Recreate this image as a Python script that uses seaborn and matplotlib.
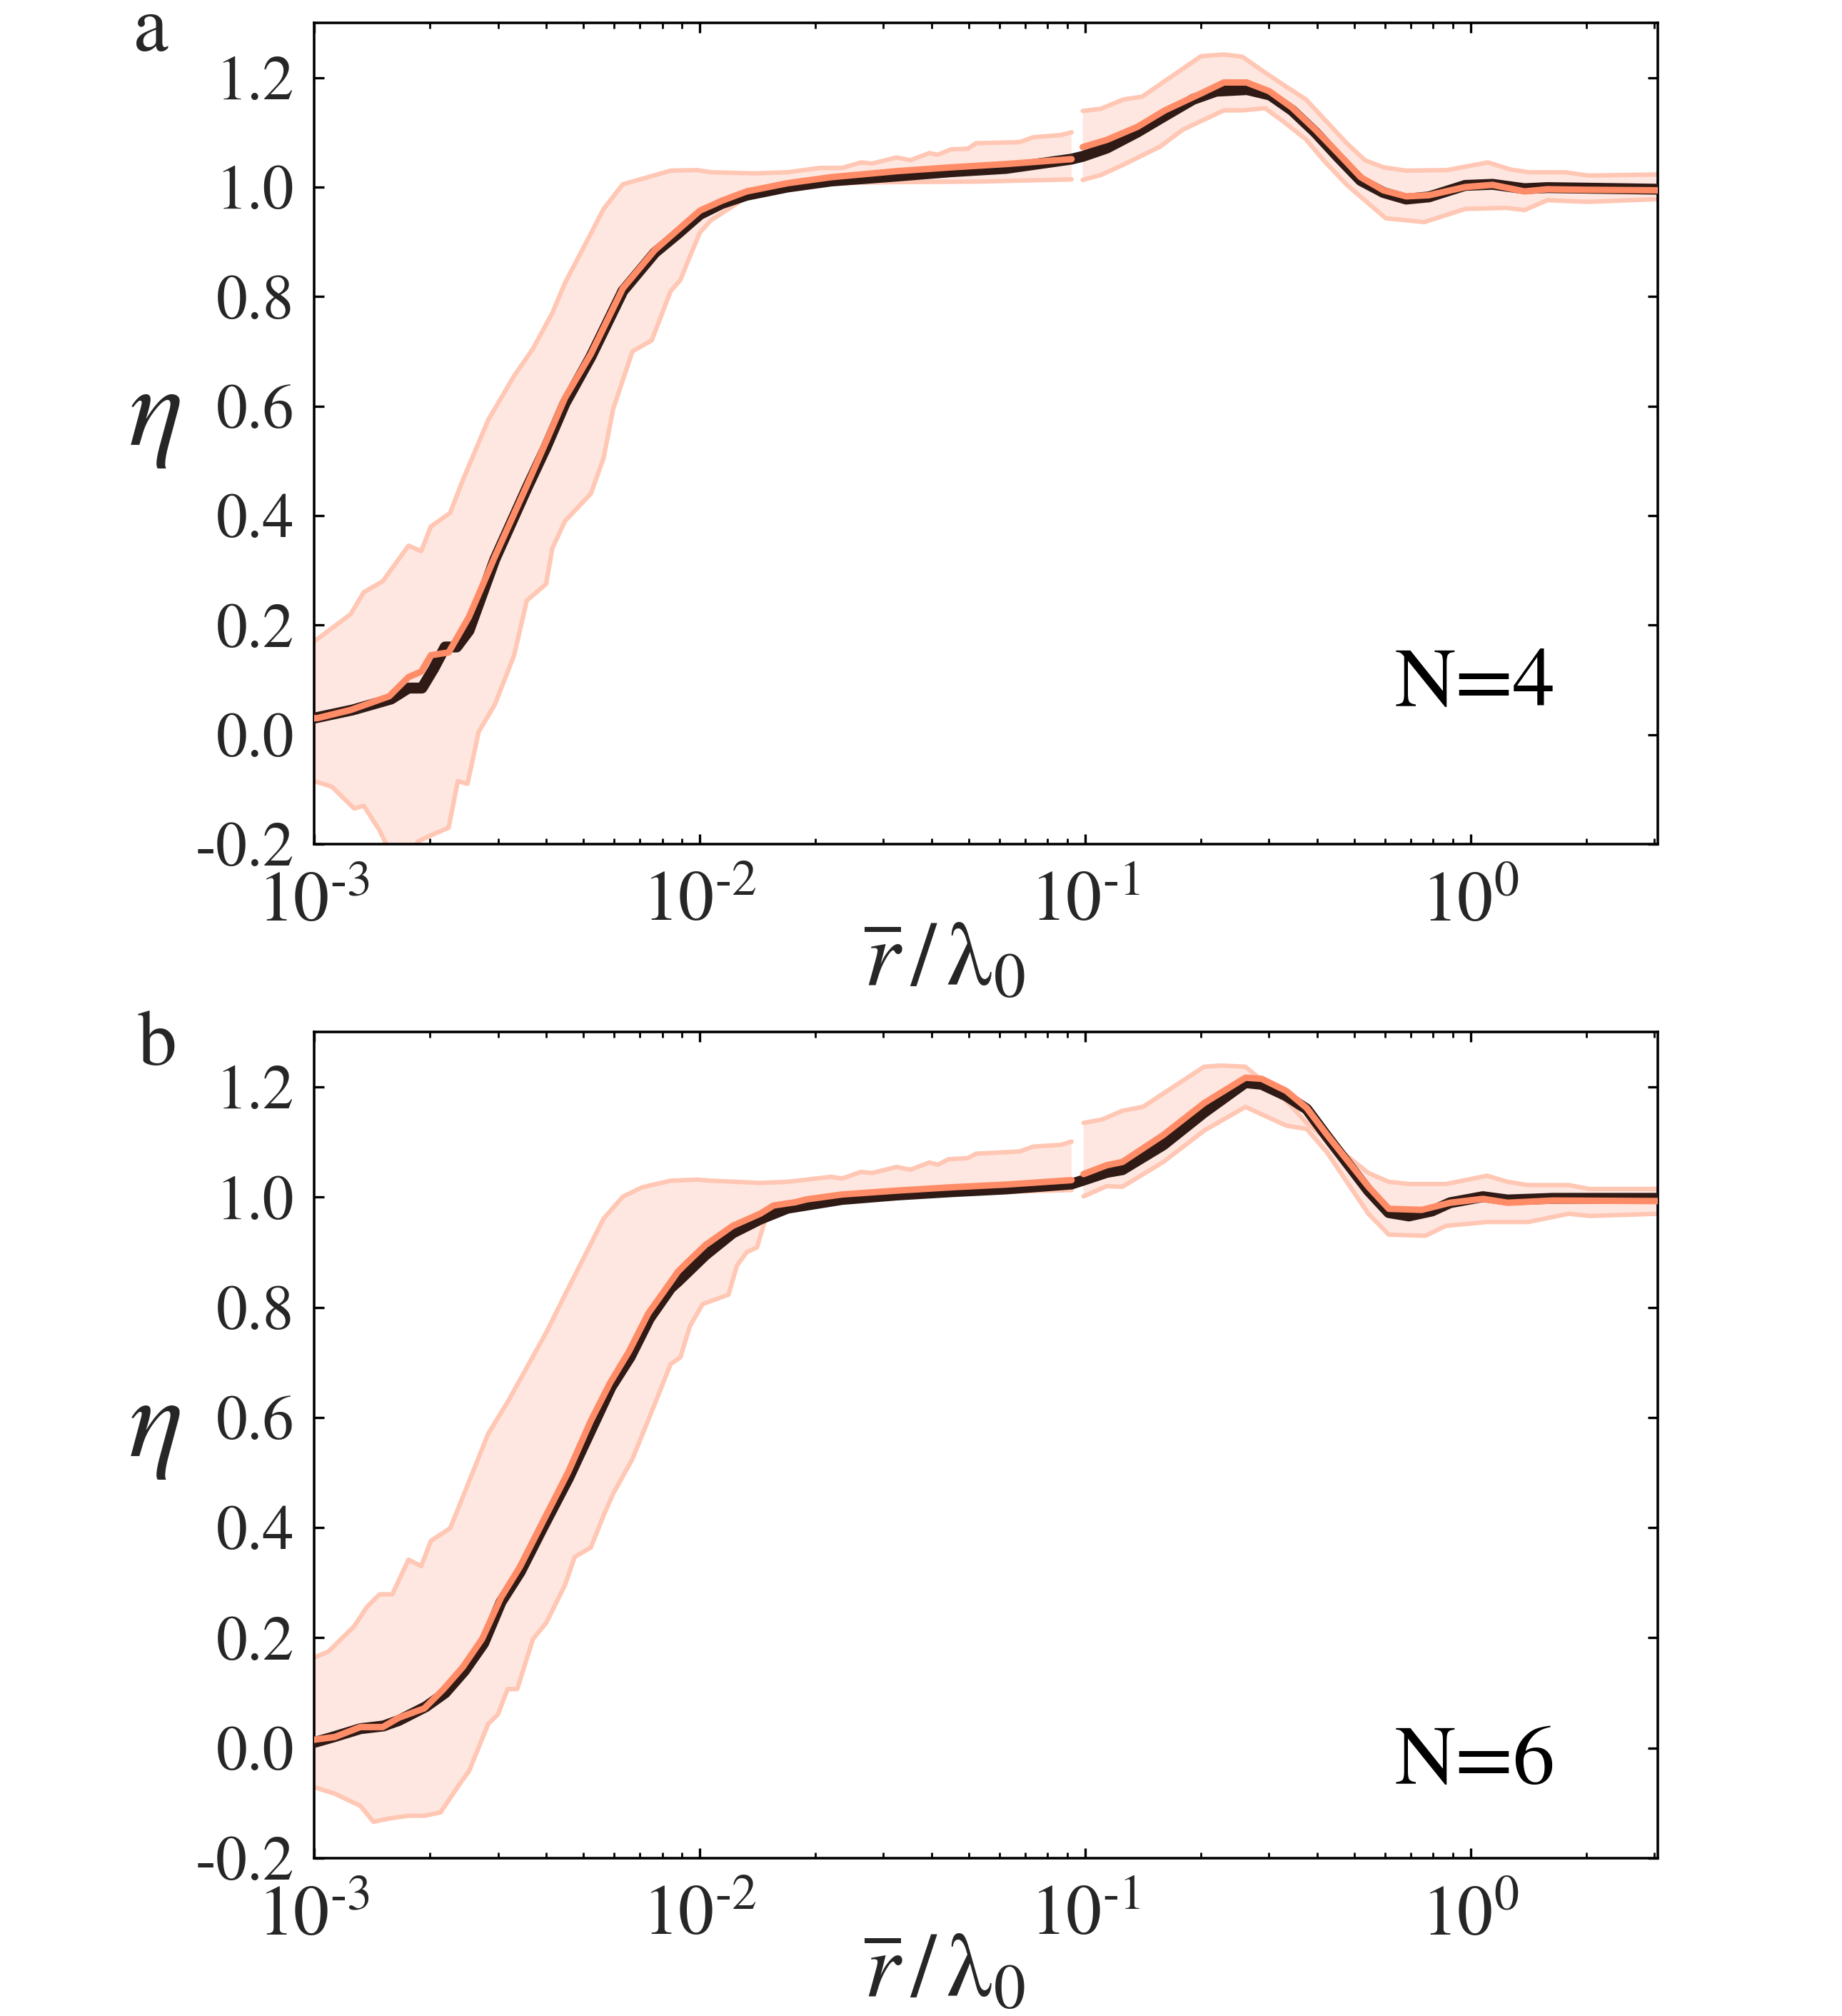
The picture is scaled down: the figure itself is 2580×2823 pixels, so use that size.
import numpy as np
import pandas as pd
import seaborn as sns
import matplotlib.pyplot as plt
from matplotlib.ticker import FixedLocator, FixedFormatter, LogLocator, NullFormatter

# ---- data (x given as log10(r/lambda0)) ----
# panel a, N=4
a_orange1_lx = [-3.0, -2.992, -2.905, -2.805, -2.755, -2.722, -2.697, -2.651, -2.598, -2.531, -2.448,
                -2.398, -2.349, -2.282, -2.199, -2.116, -2.056, -1.999, -1.942, -1.878, -1.772, -1.659,
                -1.489, -1.347, -1.205, -1.035]
a_orange1_y = [0.03, 0.03, 0.045, 0.07, 0.105, 0.115, 0.145, 0.15, 0.215, 0.325, 0.455,
               0.535, 0.615, 0.695, 0.815, 0.885, 0.922, 0.957, 0.975, 0.992, 1.007, 1.018,
               1.029, 1.036, 1.042, 1.051]
a_orange2_lx = [-1.006, -0.944, -0.864, -0.793, -0.699, -0.640, -0.581, -0.522, -0.463, -0.403, -0.344,
                -0.285, -0.226, -0.167, -0.108, -0.014, 0.057, 0.140, 0.199, 0.30, 0.49]
a_orange2_y = [1.073, 1.086, 1.110, 1.140, 1.171, 1.191, 1.191, 1.175, 1.145, 1.105, 1.062,
               1.018, 0.994, 0.983, 0.985, 1.000, 1.004, 0.992, 0.996, 0.995, 0.994]
a_black_lx = [-3.0, -2.9, -2.8, -2.755, -2.72, -2.69, -2.66, -2.63, -2.598, -2.531, -2.448, -2.398,
              -2.349, -2.282, -2.199, -2.116, -2.056, -1.999, -1.942, -1.878, -1.772, -1.659, -1.489,
              -1.347, -1.205, -1.035, -1.006, -0.944, -0.865, -0.793, -0.72, -0.66, -0.58, -0.52,
              -0.463, -0.403, -0.344, -0.285, -0.226, -0.167, -0.108, -0.05, -0.014, 0.057, 0.14,
              0.199, 0.3, 0.49]
a_black_y = [0.03, 0.045, 0.065, 0.085, 0.085, 0.12, 0.16, 0.16, 0.19, 0.32, 0.45, 0.525,
             0.605, 0.69, 0.81, 0.88, 0.915, 0.95, 0.97, 0.985, 1.0, 1.011, 1.02,
             1.028, 1.034, 1.051, 1.056, 1.071, 1.10, 1.13, 1.16, 1.175, 1.178, 1.168,
             1.14, 1.10, 1.055, 1.012, 0.99, 0.978, 0.982, 0.995, 1.003, 1.005, 0.997,
             0.999, 0.998, 0.996]
a_upper1_lx = [-3.0, -2.905, -2.871, -2.822, -2.755, -2.722, -2.697, -2.647, -2.614, -2.548, -2.481,
               -2.432, -2.382, -2.349, -2.282, -2.249, -2.199, -2.149, -2.075, -2.006, -1.971, -1.857,
               -1.772, -1.687, -1.630, -1.581, -1.552, -1.489, -1.453, -1.404, -1.382, -1.347, -1.304,
               -1.283, -1.170, -1.134, -1.063, -1.035]
a_upper1_y = [0.17, 0.22, 0.26, 0.28, 0.345, 0.335, 0.38, 0.405, 0.465, 0.575, 0.655,
              0.705, 0.77, 0.825, 0.915, 0.96, 1.005, 1.015, 1.03, 1.031, 1.027, 1.025,
              1.027, 1.035, 1.035, 1.045, 1.043, 1.054, 1.049, 1.062, 1.059, 1.069, 1.070,
              1.080, 1.082, 1.091, 1.095, 1.100]
a_lower1_lx = [-3.0, -2.954, -2.896, -2.871, -2.830, -2.813, -2.79, -2.76, -2.730, -2.700, -2.651,
               -2.627, -2.602, -2.573, -2.531, -2.481, -2.448, -2.398, -2.382, -2.349, -2.282, -2.249,
               -2.224, -2.174, -2.124, -2.075, -2.050, -2.027, -1.999, -1.971, -1.914, -1.871, -1.772,
               -1.659, -1.489, -1.276, -1.035]
a_lower1_y = [-0.085, -0.095, -0.135, -0.13, -0.175, -0.2, -0.225, -0.23, -0.195, -0.185, -0.17,
              -0.085, -0.09, 0.005, 0.055, 0.145, 0.245, 0.275, 0.34, 0.39, 0.44, 0.505,
              0.595, 0.70, 0.72, 0.81, 0.83, 0.87, 0.917, 0.939, 0.965, 0.985, 1.003,
              1.007, 1.009, 1.010, 1.014]
a_upper2_lx = [-1.006, -0.959, -0.900, -0.852, -0.699, -0.640, -0.592, -0.533, -0.486, -0.427, -0.321,
               -0.274, -0.226, -0.167, -0.061, 0.045, 0.104, 0.151, 0.246, 0.305, 0.49]
a_upper2_y = [1.139, 1.143, 1.160, 1.165, 1.239, 1.242, 1.238, 1.209, 1.187, 1.160, 1.080,
              1.049, 1.036, 1.030, 1.031, 1.045, 1.032, 1.027, 1.027, 1.021, 1.023]
a_lower2_lx = [-1.006, -0.959, -0.900, -0.805, -0.746, -0.640, -0.592, -0.533, -0.486, -0.427, -0.380,
               -0.321, -0.220, -0.120, -0.014, 0.093, 0.140, 0.199, 0.305, 0.49]
a_lower2_y = [1.013, 1.022, 1.041, 1.074, 1.105, 1.140, 1.140, 1.144, 1.120, 1.087, 1.048,
              1.004, 0.943, 0.936, 0.960, 0.962, 0.958, 0.976, 0.973, 0.978]

# panel b, N=6
b_orange1_lx = [-3.0, -2.946, -2.880, -2.822, -2.780, -2.714, -2.664, -2.614, -2.564, -2.515, -2.465,
                -2.407, -2.340, -2.282, -2.232, -2.183, -2.133, -2.075, -2.056, -2.027, -1.985, -1.914,
                -1.843, -1.808, -1.751, -1.723, -1.630, -1.489, -1.347, -1.205, -1.035]
b_orange1_y = [0.015, 0.02, 0.038, 0.038, 0.055, 0.072, 0.107, 0.147, 0.198, 0.273, 0.33,
               0.41, 0.502, 0.594, 0.663, 0.72, 0.789, 0.846, 0.865, 0.885, 0.913, 0.948,
               0.970, 0.985, 0.991, 0.996, 1.005, 1.012, 1.018, 1.023, 1.031]
b_orange2_lx = [-1.004, -0.944, -0.903, -0.797, -0.691, -0.584, -0.542, -0.478, -0.425, -0.372, -0.265,
                -0.212, -0.127, -0.053, 0.032, 0.096, 0.213, 0.49]
b_orange2_y = [1.042, 1.058, 1.064, 1.113, 1.171, 1.217, 1.215, 1.193, 1.162, 1.113, 1.019,
               0.979, 0.977, 0.990, 0.997, 0.990, 0.994, 0.993]
b_black_lx = [-3.0, -2.95, -2.88, -2.82, -2.78, -2.71, -2.66, -2.61, -2.56, -2.515, -2.465, -2.407,
              -2.34, -2.28, -2.23, -2.18, -2.13, -2.075, -2.056, -1.985, -1.914, -1.843, -1.772,
              -1.63, -1.489, -1.347, -1.205, -1.035, -1.004, -0.944, -0.903, -0.797, -0.691, -0.584,
              -0.542, -0.478, -0.425, -0.372, -0.265, -0.212, -0.16, -0.10, -0.053, 0.032, 0.096,
              0.213, 0.49]
b_black_y = [0.01, 0.02, 0.035, 0.04, 0.05, 0.075, 0.10, 0.14, 0.19, 0.265, 0.32, 0.40,
             0.49, 0.58, 0.655, 0.71, 0.78, 0.835, 0.847, 0.895, 0.935, 0.96, 0.98,
             0.996, 1.004, 1.01, 1.015, 1.024, 1.031, 1.045, 1.05, 1.095, 1.154, 1.208,
             1.205, 1.184, 1.16, 1.11, 1.012, 0.972, 0.966, 0.975, 0.99, 1.001, 0.995,
             0.998, 0.998]
b_upper1_lx = [-3.0, -2.963, -2.896, -2.863, -2.830, -2.797, -2.755, -2.722, -2.697, -2.647, -2.614,
               -2.548, -2.498, -2.448, -2.398, -2.349, -2.299, -2.249, -2.199, -2.149, -2.075, -2.006,
               -1.971, -1.843, -1.772, -1.659, -1.630, -1.581, -1.552, -1.489, -1.453, -1.404, -1.382,
               -1.354, -1.304, -1.283, -1.170, -1.134, -1.063, -1.035]
b_upper1_y = [0.164, 0.175, 0.221, 0.256, 0.279, 0.279, 0.342, 0.33, 0.376, 0.399, 0.456,
              0.571, 0.628, 0.691, 0.754, 0.823, 0.892, 0.961, 1.001, 1.018, 1.03, 1.032,
              1.030, 1.026, 1.028, 1.037, 1.034, 1.046, 1.044, 1.055, 1.050, 1.063, 1.059,
              1.069, 1.071, 1.079, 1.083, 1.092, 1.095, 1.101]
b_lower1_lx = [-3.0, -2.946, -2.880, -2.846, -2.805, -2.755, -2.714, -2.672, -2.622, -2.598, -2.548,
               -2.523, -2.498, -2.473, -2.432, -2.398, -2.349, -2.324, -2.282, -2.249, -2.224, -2.174,
               -2.124, -2.075, -2.050, -2.025, -1.992, -1.925, -1.903, -1.878, -1.851, -1.829, -1.800,
               -1.715, -1.630, -1.489, -1.205, -1.035]
b_lower1_y = [-0.071, -0.083, -0.105, -0.134, -0.128, -0.123, -0.123, -0.117, -0.065, -0.042, 0.044,
              0.061, 0.107, 0.107, 0.198, 0.227, 0.296, 0.347, 0.364, 0.422, 0.462, 0.525,
              0.611, 0.697, 0.709, 0.766, 0.806, 0.823, 0.876, 0.900, 0.909, 0.961, 0.966,
              0.992, 0.998, 1.005, 1.010, 1.013]
b_upper2_lx = [-1.004, -0.956, -0.903, -0.850, -0.691, -0.648, -0.584, -0.531, -0.478, -0.425, -0.340,
               -0.265, -0.212, -0.159, -0.064, 0.043, 0.096, 0.149, 0.255, 0.309, 0.49]
b_upper2_y = [1.135, 1.141, 1.157, 1.164, 1.237, 1.239, 1.237, 1.206, 1.175, 1.135, 1.086,
              1.044, 1.028, 1.024, 1.024, 1.039, 1.028, 1.022, 1.022, 1.015, 1.015]
b_lower2_lx = [-1.004, -0.944, -0.903, -0.797, -0.691, -0.584, -0.478, -0.425, -0.372, -0.265, -0.212,
               -0.117, -0.064, 0.043, 0.149, 0.255, 0.309, 0.49]
b_lower2_y = [1.0015, 1.020, 1.019, 1.064, 1.121, 1.164, 1.130, 1.124, 1.081, 0.970, 0.932,
              0.930, 0.948, 0.955, 0.955, 0.970, 0.966, 0.970]

y_ticks = [-0.2, 0.0, 0.2, 0.4, 0.6, 0.8, 1.0, 1.2]
y_ticklabels = ['-0.2', '0.0', '0.2', '0.4', '0.6', '0.8', '1.0', '1.2']
x_ticks = [1e-3, 1e-2, 1e-1, 1e0]
x_ticklabels = ['10$^{\\mathregular{\u2010}3}$', '10$^{\\mathregular{\u2010}2}$',
                '10$^{\\mathregular{\u2010}1}$', '10$^{\\mathregular{0}}$']
panel_text = ['N=4', 'N=6']
panel_letter = ['a', 'b']

# ---- style ----
sns.set_theme(style='ticks')
plt.rcParams['font.family'] = ['STIXGeneral', 'DejaVu Serif']
plt.rcParams['mathtext.fontset'] = 'stix'

c_black = '#2f1a16'
c_orange = '#ff8c66'
c_edge = '#ffc7b4'
c_fill = '#fee7e1'

fig = plt.figure(figsize=(25.8, 28.23), dpi=100)
ax_a = fig.add_axes([0.1705, 0.5813, 0.7295, 0.4074])
ax_b = fig.add_axes([0.1705, 0.0783, 0.7295, 0.4098])

panels = [
    (ax_a, a_black_lx, a_black_y, [(a_orange1_lx, a_orange1_y), (a_orange2_lx, a_orange2_y)],
     [(a_upper1_lx, a_upper1_y, a_lower1_lx, a_lower1_y), (a_upper2_lx, a_upper2_y, a_lower2_lx, a_lower2_y)],
     0.1687, -0.146),
    (ax_b, b_black_lx, b_black_y, [(b_orange1_lx, b_orange1_y), (b_orange2_lx, b_orange2_y)],
     [(b_upper1_lx, b_upper1_y, b_lower1_lx, b_lower1_y), (b_upper2_lx, b_upper2_y, b_lower2_lx, b_lower2_y)],
     0.0907, -0.142),
]

for i, (ax, blx, by, oranges, bands, ny, xl_y) in enumerate(panels):
    # spread band
    for ulx, uy, llx, ly in bands:
        ux = 10 ** np.array(ulx)
        lx = 10 ** np.array(llx)
        ax.fill(np.r_[ux, lx[::-1]], np.r_[uy, ly[::-1]], color=c_fill, lw=0, zorder=1)
        sns.lineplot(x=ux, y=uy, ax=ax, color=c_edge, linewidth=4.5, estimator=None, sort=False, zorder=2)
        sns.lineplot(x=lx, y=ly, ax=ax, color=c_edge, linewidth=4.5, estimator=None, sort=False, zorder=2)
    sns.lineplot(x=10 ** np.array(blx), y=by, ax=ax, color=c_black, linewidth=11,
                 estimator=None, sort=False, zorder=3)
    for olx, oy in oranges:
        sns.lineplot(x=10 ** np.array(olx), y=oy, ax=ax, color=c_orange, linewidth=6.5,
                     estimator=None, sort=False, zorder=4, solid_capstyle='round')

    ax.set_xscale('log')
    ax.set_xlim(1e-3, 3.06)
    ax.set_ylim(-0.2, 1.3)
    ax.yaxis.set_major_locator(FixedLocator(y_ticks))
    ax.yaxis.set_major_formatter(FixedFormatter(y_ticklabels))
    ax.xaxis.set_major_locator(FixedLocator(x_ticks))
    ax.xaxis.set_major_formatter(FixedFormatter(x_ticklabels))
    ax.xaxis.set_minor_locator(LogLocator(base=10, subs=np.arange(2, 10), numticks=20))
    ax.xaxis.set_minor_formatter(NullFormatter())
    ax.tick_params(which='both', direction='in', top=True, right=True, color='black')
    ax.tick_params(which='major', length=9.8, width=2.4)
    ax.tick_params(which='minor', length=6, width=2.0)
    ax.tick_params(axis='y', which='major', labelsize=63, pad=20)
    ax.tick_params(axis='x', which='major', labelsize=72, pad=28)
    for sp in ax.spines.values():
        sp.set_visible(True)
        sp.set_linewidth(2.6)
        sp.set_color('black')

    ax.set_ylabel(r'$\eta$', fontsize=115, rotation=0, va='center', ha='center')
    ax.yaxis.set_label_coords(-0.119, 0.519)
    ax.set_xlabel(r'$\overline{r}\,/\,\mathrm{\lambda}_0$', fontsize=92, va='center', ha='center')
    ax.xaxis.set_label_coords(0.469, xl_y)
    ax.text(0.864, ny, panel_text[i], transform=ax.transAxes, fontsize=85,
            ha='center', va='baseline', color='black')

fig.text(0.0818, 0.975, panel_letter[0], fontsize=79, ha='center', va='baseline')
fig.text(0.0853, 0.4718, panel_letter[1], fontsize=79, ha='center', va='baseline')

fig.savefig('out.png', dpi=100)
